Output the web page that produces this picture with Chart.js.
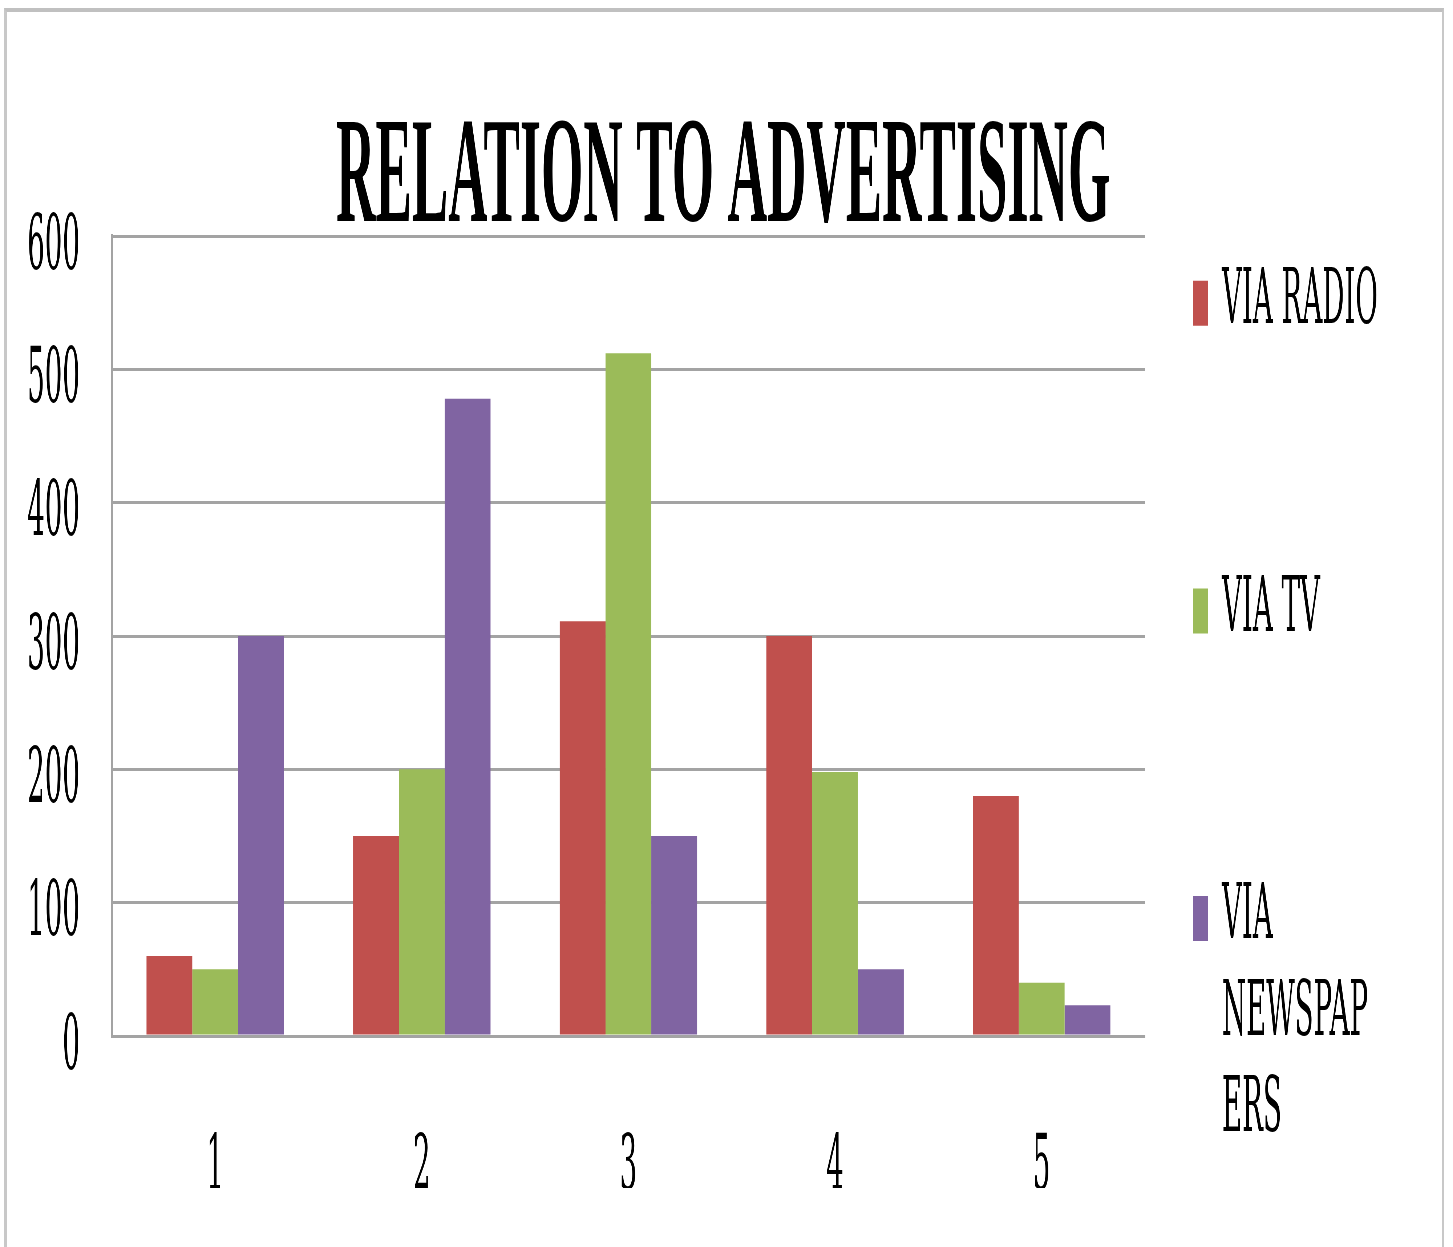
<!DOCTYPE html>
<html lang="en">
<head>
  <meta charset="UTF-8" />
  <title>Relation to Advertising</title>
  <script src="https://cdn.jsdelivr.net/npm/chart.js"></script>
  <style>
    html, body {
      margin: 0;
      background: #fff;
      overflow: hidden;
    }
    .frame {
      position: absolute;
      left: 4px;
      top: 8px;
      width: 1435px;
      height: 1260px;
      border-top: 4px solid #c0c0c0;
      border-left: 3px solid #c8c8c8;
      border-right: 2px solid #c8c8c8;
    }
    /* drawn wide, shown narrow: gives the tall condensed lettering */
    #chart {
      position: absolute;
      left: 0;
      top: 0;
      width: 1453px !important;
      height: 1247px !important;
    }
  </style>
</head>
<body>
  <div class="frame"></div>
  <canvas id="chart" width="4000" height="1247"></canvas>

  <script>
    const categories = ["1", "2", "3", "4", "5"];
    const seriesNames = ["VIA RADIO", "VIA TV", "VIA NEWSPAPERS"];
    const viaRadio = [60, 150, 311, 300, 180];
    const viaTv = [50, 200, 512, 198, 40];
    const viaNewspapers = [300, 478, 150, 50, 23];
    const yTicks = [0, 100, 200, 300, 400, 500, 600];

    const colors = ["#c0504d", "#9bbb59", "#8064a2"];
    const gridGray = "#a3a3a3";
    const serif = "'DejaVu Serif', serif";
    const legendFont = { family: serif, size: 76, lineHeight: 1.27 };

    // break legend text into a narrow column, cutting long words if needed
    function wrapText(ctx, text, maxWidth) {
      const lines = [];
      let line = "";
      for (const word of text.split(" ")) {
        const trial = line ? line + " " + word : word;
        if (ctx.measureText(trial).width <= maxWidth) { line = trial; continue; }
        if (line) lines.push(line);
        let rest = word;
        while (ctx.measureText(rest).width > maxWidth) {
          let n = rest.length;
          while (n > 1 && ctx.measureText(rest.slice(0, n)).width > maxWidth) n--;
          lines.push(rest.slice(0, n));
          rest = rest.slice(n);
        }
        line = rest;
      }
      if (line) lines.push(line);
      return lines;
    }

    // the y tick labels sit in the left margin; widen the axis box so they are not clipped
    const yLabelRoom = {
      id: "yLabelRoom",
      afterLayout(chart) {
        const y = chart.scales.y;
        y.left = 0;
        y.width = y.right;
      }
    };

    new Chart(document.getElementById("chart"), {
      type: "bar",
      data: {
        labels: categories,
        datasets: [
          { label: seriesNames[0], data: viaRadio, backgroundColor: colors[0] },
          { label: seriesNames[1], data: viaTv, backgroundColor: colors[1] },
          { label: seriesNames[2], data: viaNewspapers, backgroundColor: colors[2] }
        ]
      },
      options: {
        responsive: false,
        devicePixelRatio: 1,
        animation: false,
        categoryPercentage: 0.665,
        barPercentage: 1,
        layout: { padding: { left: 186, right: 204, top: 0, bottom: 59 } },
        scales: {
          x: {
            grid: { display: false, drawTicks: false },
            border: { display: true, color: gridGray, width: 3 },
            ticks: { color: "#000", padding: 88, font: { family: serif, size: 76, lineHeight: 1.2 } },
            afterFit(s) { s.height = 152; }
          },
          y: {
            min: yTicks[0],
            max: yTicks[yTicks.length - 1],
            afterBuildTicks(s) { s.ticks = yTicks.map(v => ({ value: v })); },
            grid: { color: gridGray, lineWidth: 3, drawTicks: false },
            border: { display: true, color: gridGray, width: 5 },
            ticks: { color: "#000", padding: 88, labelOffset: 13, font: { family: serif, size: 76, lineHeight: 1.2 } },
            afterFit(s) { s.width = 122; }
          },
          // empty strip between plot and legend
          gap: {
            type: "linear",
            position: "right",
            display: true,
            grid: { display: false, drawTicks: false },
            border: { display: false },
            ticks: { display: false },
            afterFit(s) { s.width = 114; }
          }
        },
        plugins: {
          title: {
            display: true,
            text: "RELATION TO ADVERTISING",
            color: "#000",
            font: { family: "'Liberation Serif', serif", size: 150, weight: "bold", lineHeight: 0.7 },
            padding: { top: 129.5, bottom: 1.5 }
          },
          legend: {
            position: "right",
            fullSize: true,
            align: "end",
            maxWidth: 530,
            labels: {
              color: "#000",
              font: legendFont,
              boxWidth: 42,
              boxHeight: 45,
              padding: 18,
              generateLabels(chart) {
                const items = Chart.defaults.plugins.legend.labels.generateLabels(chart);
                const ctx = chart.ctx;
                ctx.save();
                ctx.font = legendFont.size + "px " + legendFont.family;
                items.forEach(item => {
                  const lines = wrapText(ctx, item.text, 455);
                  while (lines.length < 3) lines.push("");
                  item.text = lines;
                  item.lineWidth = 0;
                });
                ctx.restore();
                return items;
              }
            }
          },
          tooltip: { enabled: false }
        }
      },
      plugins: [yLabelRoom]
    });
  </script>
</body>
</html>
